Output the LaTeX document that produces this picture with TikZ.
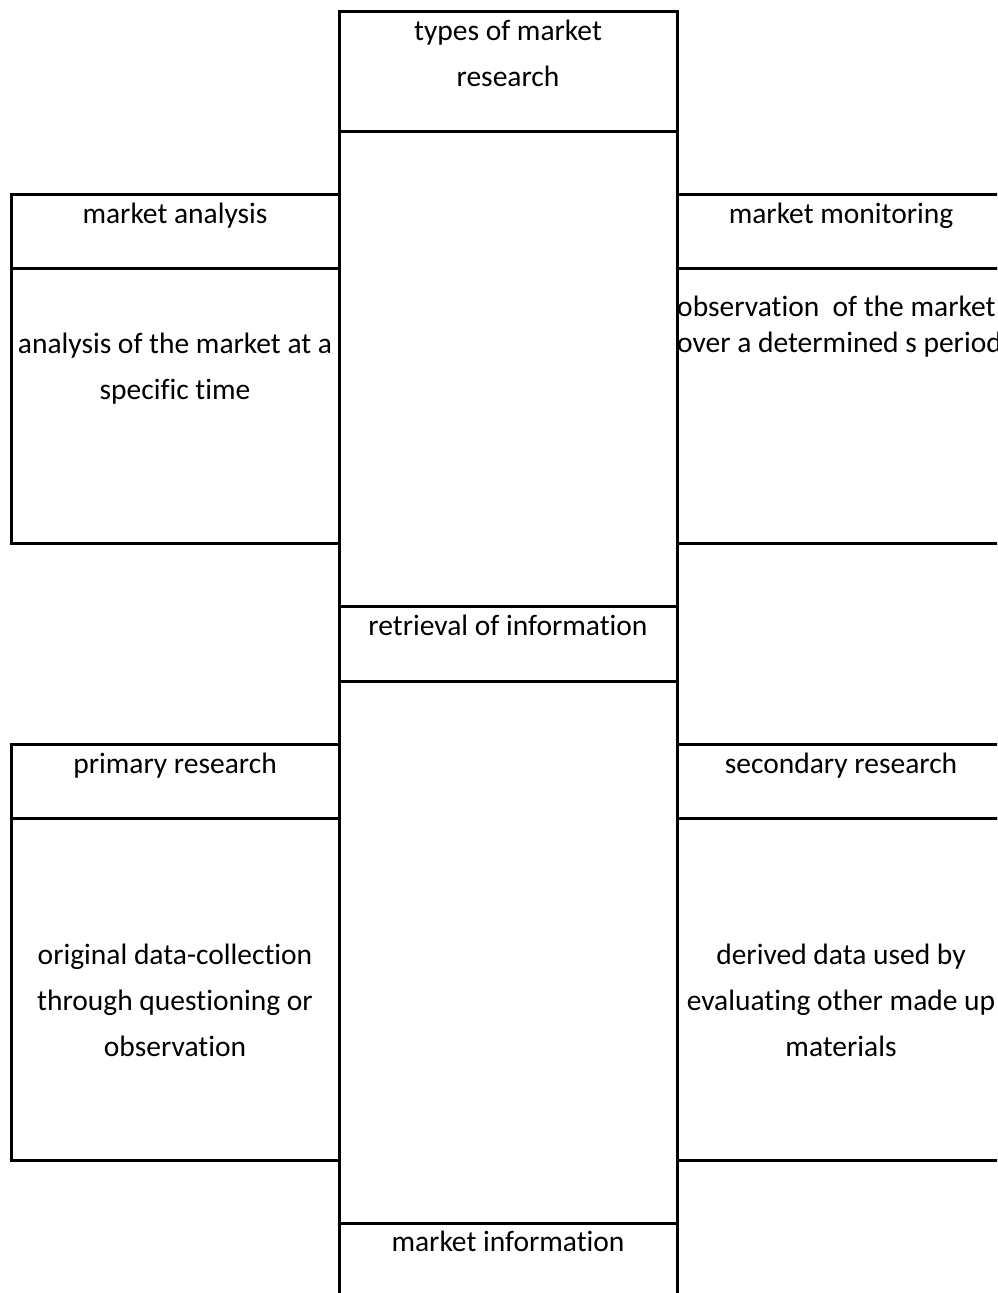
\documentclass[tikz,border=0pt]{standalone}
\usepackage{fontspec}
\setmainfont{Carlito}[Ligatures={NoCommon}]
\begin{document}
\begin{tikzpicture}[x=1pt,y=-1pt,
  boxline/.style={draw=black,line width=3pt},
  txt/.style={inner sep=0pt,anchor=base,font=\fontsize{29.5}{36}\selectfont}]
\useasboundingbox (0,0) rectangle (997,1293);
\clip (0,0) rectangle (997,1293);
\fill[white] (0,0) rectangle (997,1293);
% central column
\draw[boxline] (339,11) rectangle (677,131);
\draw[boxline] (339,131) rectangle (677,606);
\draw[boxline] (339,606) rectangle (677,681);
\draw[boxline] (339,681) rectangle (677,1223);
\draw[boxline] (339,1223) rectangle (677,1310);
% left boxes
\draw[boxline] (11,194) rectangle (339,268);
\draw[boxline] (11,268) rectangle (339,543);
\draw[boxline] (11,744) rectangle (339,818);
\draw[boxline] (11,818) rectangle (339,1160);
% right boxes
\draw[boxline] (677,194) rectangle (1005,268);
\draw[boxline] (677,268) rectangle (1005,543);
\draw[boxline] (677,744) rectangle (1005,818);
\draw[boxline] (677,818) rectangle (1005,1160);
% texts central
\node[txt] (t1a) at (508,40) {types of market};
\node[txt] (t1b) at (508,86) {research};
\node[txt] (t2) at (508,635) {retrieval of information};
\node[txt] (t3) at (508,1251) {market information};
% left
\node[txt] (l1) at (175,223) {market analysis};
\node[txt] (l1a) at (175,353) {analysis of the market at a};
\node[txt] (l1b) at (175,399) {specific time};
\node[txt] (l2) at (175,773) {primary research};
\node[txt] (l2a) at (175,964) {original data-collection};
\node[txt] (l2b) at (175,1010) {through questioning or};
\node[txt] (l2c) at (175,1056) {observation};
% right
\node[txt] (r1) at (841,223) {market monitoring};
\node[txt,anchor=base west] (r1a) at (677,316) {observation\ \ of the market};
\node[txt,anchor=base west] (r1b) at (677,352) {over a determined s period};
\node[txt] (r2) at (841,773) {secondary research};
\node[txt] (r2a) at (841,964) {derived data used by};
\node[txt] (r2b) at (841,1010) {evaluating other made up};
\node[txt] (r2c) at (841,1056) {materials};
\end{tikzpicture}
\end{document}
